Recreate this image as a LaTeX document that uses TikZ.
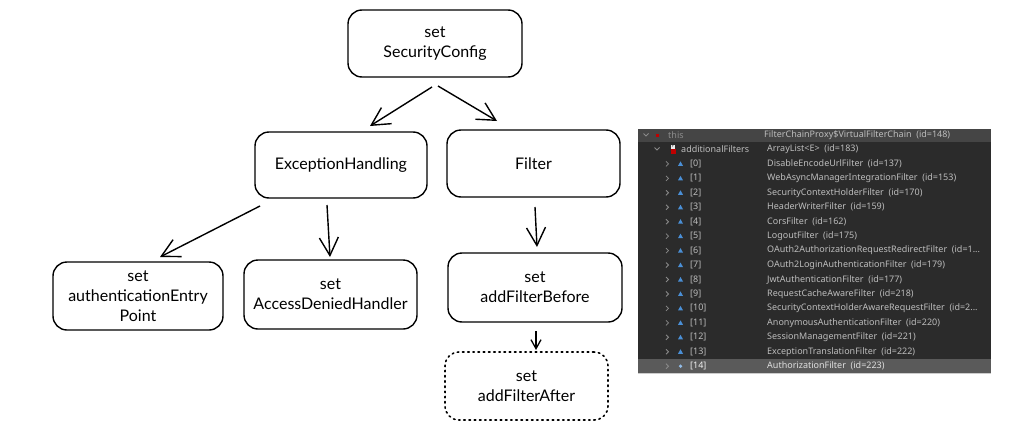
\documentclass[tikz,border=0pt]{standalone}
\usepackage{fontspec}
\setmainfont{Lato}
\newfontfamily\dbgfont{Noto Sans}
\usetikzlibrary{arrows.meta}
\newcommand\mydots{...}
\definecolor{panelbg}{HTML}{2B2B2B}
\definecolor{thisbg}{HTML}{454545}
\definecolor{selbg}{HTML}{5A5A5A}
\definecolor{dbgtext}{HTML}{BDBDBD}
\definecolor{dimtext}{HTML}{8C8C8C}
\definecolor{chev}{HTML}{8A8A8A}
\definecolor{tri}{HTML}{4A8FD6}
\tikzset{
  box/.style={draw=black, line width=1.4pt, rounded corners=14pt, align=center,
    font=\fontsize{16}{20}\selectfont, inner sep=0pt},
  dotbox/.style={box, line width=1.6pt, dash pattern=on 1.6pt off 3.6pt, line cap=round},
  arr/.style={line width=1.4pt, -{Straight Barb[length=18pt,width=19pt,line width=1.4pt]}},
  smallarr/.style={line width=1.4pt, -{Straight Barb[length=9pt,width=10pt,line width=1.3pt]}},
  dbg/.style={font=\dbgfont\fontsize{9}{10}\selectfont, text=dbgtext, anchor=west, inner sep=0pt},
}
\begin{document}
\begin{tikzpicture}[x=1pt,y=-1pt]
\useasboundingbox (0,0) rectangle (1034,442);
\fill[white] (0,0) rectangle (1034,442);

% diagram boxes
\node[box, minimum width=174pt, minimum height=67pt] (sc) at (435,43.5) {set\\SecurityConfig};
\node[box, minimum width=172pt, minimum height=66pt] (eh) at (341,165) {ExceptionHandling};
\node[box, minimum width=173pt, minimum height=67pt] (fi) at (533.5,163.5) {Filter};
\node[box, minimum width=170pt, minimum height=68pt] (ae) at (138,296) {set\\authenticationEntry\\Point};
\node[box, minimum width=173pt, minimum height=69pt] (ad) at (330.5,294.5) {set\\AccessDeniedHandler};
\node[box, minimum width=174pt, minimum height=69pt] (fb) at (535,287.5) {set\\addFilterBefore};
\node[dotbox, minimum width=163pt, minimum height=68pt] (fa) at (526.5,386) {set\\addFilterAfter};

% connectors
\coordinate (sca) at (432,87);
\coordinate (scb) at (438,86);
\coordinate (eha) at (260,206);
\coordinate (ehb) at (327,205);
\coordinate (fia) at (535,207);
\coordinate (fba) at (536,331);
\draw[arr] (sca) -- (370,126) coordinate (ehin);
\draw[arr] (scb) -- (497,121) coordinate (fiin);
\draw[arr] (eha) -- (160,257) coordinate (aein);
\draw[arr] (ehb) -- (330,257) coordinate (adin);
\draw[arr] (fia) -- (537,247) coordinate (fbin);
\draw[smallarr] (fba) -- (536,350) coordinate (fain);

% debugger panel
\fill[panelbg] (638,129) rectangle (991,373);
\fill[thisbg] (638,129) rectangle (991,142);
\fill[selbg] (638,359) rectangle (991,373);
\draw[line width=1pt, color=black!20] (638,373.5) -- (991,373.5);

% row 0: this
\draw[chev, line width=0.9pt] (643.5,133.5) -- (646,136) -- (648.5,133.5);
\fill[red!75!black] (655.5,133.5) rectangle (658.5,136.5);
\node[dbg, text=dimtext] (thisl) at (668,135) {this};
\node[dbg] (thisv) at (764,135) {FilterChainProxy\$VirtualFilterChain\ \ (id=148)};
% row 1: additionalFilters
\draw[chev, line width=0.9pt] (654.5,147.5) -- (657,150) -- (659.5,147.5);
\fill[white!85!gray] (671,144.5) rectangle (675,148.5);
\fill[red!75!black] (670.5,149) rectangle (675.5,154);
\node[font=\dbgfont\fontsize{4}{4}\selectfont, text=panelbg, inner sep=0pt] (ficon) at (673,146.5) {F};
\node[dbg] (afl) at (681,149.5) {additionalFilters};
\node[dbg] (afv) at (767,149.5) {ArrayList<E>\ \ (id=183)};

% rows 2..15
\foreach \k/\idx/\val in {
  2/0/DisableEncodeUrlFilter\ \ (id=137),
  3/1/WebAsyncManagerIntegrationFilter\ \ (id=153),
  4/2/SecurityContextHolderFilter\ \ (id=170),
  5/3/HeaderWriterFilter\ \ (id=159),
  6/4/CorsFilter\ \ (id=162),
  7/5/LogoutFilter\ \ (id=175),
  8/6/OAuth2AuthorizationRequestRedirectFilter\ \ (id=1\mydots,
  9/7/OAuth2LoginAuthenticationFilter\ \ (id=179),
  10/8/JwtAuthenticationFilter\ \ (id=177),
  11/9/RequestCacheAwareFilter\ \ (id=218),
  12/10/SecurityContextHolderAwareRequestFilter\ \ (id=2\mydots,
  13/11/AnonymousAuthenticationFilter\ \ (id=220),
  14/12/SessionManagementFilter\ \ (id=221),
  15/13/ExceptionTranslationFilter\ \ (id=222)}{
  \pgfmathsetmacro{\yy}{135+14.45*\k}
  \draw[chev, line width=0.8pt] (666,\yy-2.5) -- (668.5,\yy) -- (666,\yy+2.5);
  \fill[tri] (678,\yy+2) -- (683,\yy+2) -- (680.5,\yy-2.5) -- cycle;
  \node[dbg] (i\k) at (690,\yy) {[\idx]};
  \node[dbg] (v\k) at (767,\yy) {\val};
}
% row 16 (selected)
\draw[chev, line width=0.8pt] (666,363.7) -- (668.5,366.2) -- (666,368.7);
\fill[tri!60!white] (680.5,366.2) circle (1.8pt);
\node[dbg, text=white!90!gray] (i16) at (690,366.2) {[14]};
\node[dbg, text=white!75!gray] (v16) at (767,366.2) {AuthorizationFilter\ \ (id=223)};
\end{tikzpicture}
\end{document}
